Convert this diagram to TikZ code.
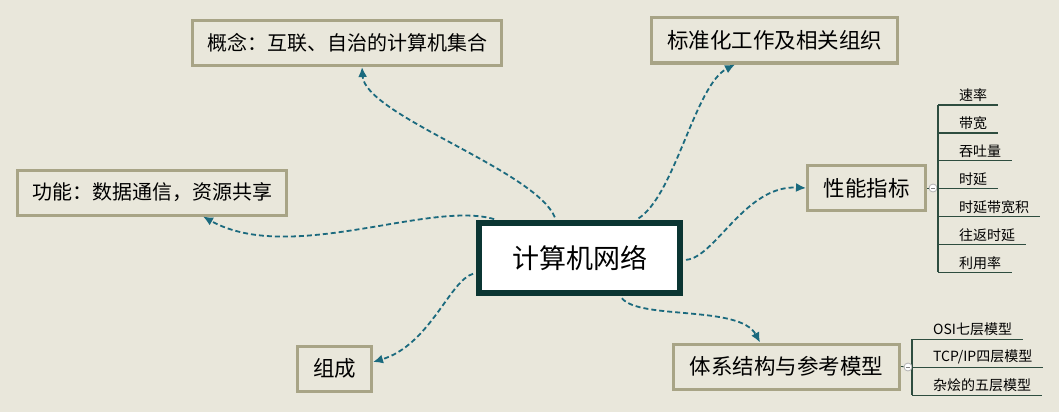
\documentclass[tikz,border=0pt]{standalone}
\usepackage{fontspec}
\setmainfont{Noto Sans CJK SC}
\usetikzlibrary{positioning, calc, arrows.meta}
\definecolor{paper}{HTML}{E9E7DB}
\definecolor{olive}{HTML}{A8A486}
\definecolor{deep}{HTML}{0B3532}
\definecolor{sea}{HTML}{1B6A7E}
\definecolor{twig}{HTML}{2E4D3F}
\tikzstyle{Root} = [draw=deep, line width=6pt, fill=white,
minimum width=201pt, minimum height=70pt,
font=\fontsize{27}{32}\selectfont]
\tikzstyle{Topic} = [draw=olive, line width=3pt, fill=paper,
minimum height=45pt, font=\fontsize{21.5}{26}\selectfont]
\tikzstyle{Leaf} = [anchor=south west, inner xsep=0pt, inner ysep=3pt,
font=\fontsize{14}{17}\selectfont]
\tikzstyle{Twig} = [twig, line width=1.2pt]
\tikzstyle{Knob} = [circle, draw=gray!60, fill=white, line width=0.8pt,
minimum size=8pt, inner sep=0pt,
path picture={\draw[gray, line width=0.6pt] ([xshift=2pt]path picture bounding box.west) -- ([xshift=-2pt]path picture bounding box.east);}]
\tikzstyle{Arrow} = [
sea, line width=1.8pt,
dash pattern=on 5pt off 3pt,
shorten <= 3pt,
-{Latex[length=10pt, width=9pt]}]

\begin{document}
\begin{tikzpicture}[x=1pt, y=-1pt]
    \useasboundingbox (0,0) rectangle (1059,412);
    \fill[paper] (0,0) rectangle (1059,412);
    \node [Root] (0) at (579.5,258) {计算机网络};
    \node [Topic, minimum width=309pt, font=\fontsize{20}{24}\selectfont] (1) at (347,43) {概念：互联、自治的计算机集合};
    \node [Topic, minimum width=269pt, font=\fontsize{20}{24}\selectfont] (2) at (152,192.5) {功能：数据通信，资源共享};
    \node [Topic, minimum width=246pt] (3) at (774.5,40.5) {标准化工作及相关组织};
    \node [Topic, minimum width=118pt] (4) at (866.5,188) {性能指标};
    \node [Topic, minimum width=226pt] (5) at (786.5,366.5) {体系结构与参考模型};
    \node [Topic, minimum width=74pt] (6) at (334.5,368.5) {组成};
    \draw[Arrow] ([xshift=-23.5pt]0.north) .. controls (535,170) and (365,115) .. ([xshift=15pt]1.south);
    \draw[Arrow] ([xshift=-82.5pt]0.north) .. controls (430,200) and (290,265) .. ([xshift=51pt]2.south);
    \draw[Arrow] ([xshift=56.5pt]0.north) .. controls (675,195) and (695,85) .. ([xshift=-39.5pt]3.south);
    \draw[Arrow] ([yshift=-2pt]0.east) .. controls (715,258) and (745,185) .. (4.west);
    \draw[Arrow] ([xshift=40.5pt]0.south) .. controls (640,320) and (740,305) .. ([xshift=-26.5pt]5.north);
    \draw[Arrow] ([yshift=-15pt]0.west) .. controls (450,280) and (430,345) .. ([yshift=6.5pt]6.east);
    % performance items
    \foreach \txt [count=\i] in {速率,带宽,吞吐量,时延,时延带宽积,往返时延,利用率}{
        \node [Leaf] (4\i) at (959,{105+27.9*(\i-1)}) {\txt};
        \draw[Twig] ([xshift=-21pt]4\i.south west) -- ([xshift=11pt]4\i.south east);
    }
    \draw[Twig] ([xshift=-21pt]41.south west) -- ([xshift=-21pt]47.south west);
    \node [Knob] (m4) at (933,188) {};
    \coordinate (j4) at (938,188);
    \draw[Twig, line width=0.8pt] (4.east) -- (m4);
    \draw[Twig] (m4) -- (j4);
    % model items
    \foreach \txt [count=\i] in {OSI七层模型,TCP/IP四层模型,杂烩的五层模型}{
        \node [Leaf] (5\i) at (933,{339.3+28*(\i-1)}) {\txt};
        \draw[Twig] ([xshift=-21pt]5\i.south west) -- ([xshift=11pt]5\i.south east);
    }
    \draw[Twig] ([xshift=-21pt]51.south west) -- ([xshift=-21pt]53.south west);
    \node [Knob] (m5) at (908,367) {};
    \coordinate (j5) at (912,367);
    \draw[Twig, line width=0.8pt] (5.east) -- (m5);
    \draw[Twig] (m5) -- (j5);
\end{tikzpicture}
\end{document}
